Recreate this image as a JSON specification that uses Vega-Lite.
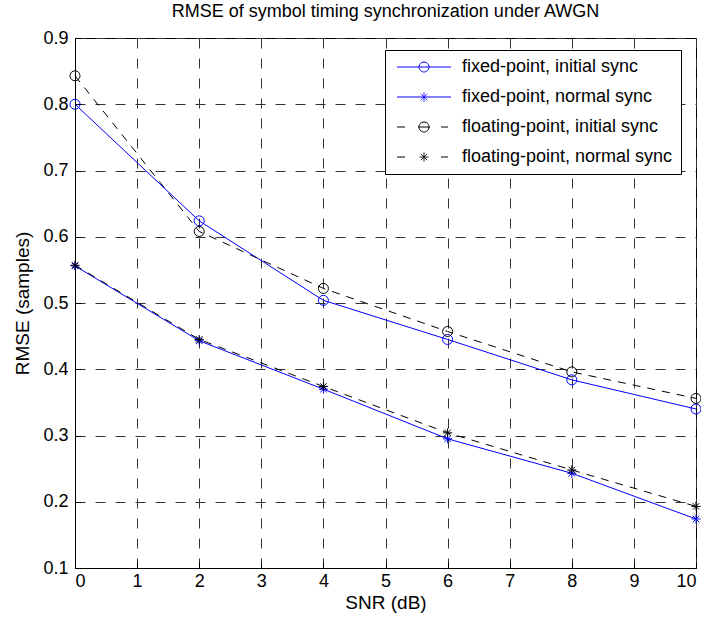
{
  "$schema": "https://vega.github.io/schema/vega-lite/v6.json",
  "width": 621,
  "height": 530,
  "autosize": {"type": "none"},
  "padding": {"left": 75, "top": 38, "right": 5, "bottom": 58},
  "background": "white",
  "config": {
    "font": "Liberation Sans",
    "view": {"stroke": "black", "strokeWidth": 1},
    "axis": {
      "labelFont": "Liberation Sans",
      "labelFontSize": 18,
      "labelColor": "black",
      "titleFont": "Liberation Sans",
      "titleFontSize": 19,
      "titleFontWeight": "normal",
      "titleColor": "black",
      "domainColor": "black",
      "tickColor": "black",
      "tickSize": -6,
      "labelPadding": 13,
      "grid": true,
      "gridColor": "#333333",
      "gridDash": [10, 10],
      "gridWidth": 1,
      "gridOpacity": 1
    }
  },
  "title": {
    "text": "RMSE of symbol timing synchronization under AWGN",
    "font": "Liberation Sans",
    "fontSize": 18,
    "fontWeight": "normal",
    "color": "black",
    "offset": 8
  },
  "data": {
    "values": [
      {"snr": 0, "rmse": 0.800, "series": "fixed-point, initial sync"},
      {"snr": 2, "rmse": 0.624, "series": "fixed-point, initial sync"},
      {"snr": 4, "rmse": 0.504, "series": "fixed-point, initial sync"},
      {"snr": 6, "rmse": 0.445, "series": "fixed-point, initial sync"},
      {"snr": 8, "rmse": 0.384, "series": "fixed-point, initial sync"},
      {"snr": 10, "rmse": 0.340, "series": "fixed-point, initial sync"},
      {"snr": 0, "rmse": 0.556, "series": "fixed-point, normal sync"},
      {"snr": 2, "rmse": 0.443, "series": "fixed-point, normal sync"},
      {"snr": 4, "rmse": 0.370, "series": "fixed-point, normal sync"},
      {"snr": 6, "rmse": 0.295, "series": "fixed-point, normal sync"},
      {"snr": 8, "rmse": 0.243, "series": "fixed-point, normal sync"},
      {"snr": 10, "rmse": 0.174, "series": "fixed-point, normal sync"},
      {"snr": 0, "rmse": 0.843, "series": "floating-point, initial sync"},
      {"snr": 2, "rmse": 0.608, "series": "floating-point, initial sync"},
      {"snr": 4, "rmse": 0.522, "series": "floating-point, initial sync"},
      {"snr": 6, "rmse": 0.457, "series": "floating-point, initial sync"},
      {"snr": 8, "rmse": 0.396, "series": "floating-point, initial sync"},
      {"snr": 10, "rmse": 0.356, "series": "floating-point, initial sync"},
      {"snr": 0, "rmse": 0.557, "series": "floating-point, normal sync"},
      {"snr": 2, "rmse": 0.445, "series": "floating-point, normal sync"},
      {"snr": 4, "rmse": 0.374, "series": "floating-point, normal sync"},
      {"snr": 6, "rmse": 0.304, "series": "floating-point, normal sync"},
      {"snr": 8, "rmse": 0.248, "series": "floating-point, normal sync"},
      {"snr": 10, "rmse": 0.193, "series": "floating-point, normal sync"}
    ]
  },
  "encoding": {
    "x": {
      "field": "snr",
      "type": "quantitative",
      "scale": {"domain": [0, 10], "nice": false},
      "axis": {"title": "SNR (dB)", "values": [0,1,2,3,4,5,6,7,8,9,10], "format": "d", "labelPadding": 10, "titlePadding": 3}
    },
    "y": {
      "field": "rmse",
      "type": "quantitative",
      "scale": {"domain": [0.1, 0.9], "nice": false, "zero": false},
      "axis": {"title": "RMSE (samples)", "values": [0.1,0.2,0.3,0.4,0.5,0.6,0.7,0.8,0.9], "format": ".1f", "titlePadding": 10}
    },
    "color": {
      "field": "series",
      "type": "nominal",
      "scale": {
        "domain": ["fixed-point, initial sync", "fixed-point, normal sync", "floating-point, initial sync", "floating-point, normal sync"],
        "range": ["#0000ff", "#0000ff", "#000000", "#000000"]
      },
      "legend": {
        "orient": "none",
        "legendX": 310,
        "legendY": 12,
        "title": null,
        "symbolSize": 256,
        "symbolOffset": 22,
        "labelOffset": 29,
        "padding": 8,
        "rowPadding": 12,
        "labelLimit": 400,
        "strokeColor": "black",
        "fillColor": "white",
        "labelFont": "Liberation Sans",
        "labelFontSize": 18,
        "labelColor": "black",
        "encode": {
          "symbols": {
            "update": {
              "shape": {"signal": "datum.value === 'fixed-point, initial sync' ? 'M-3.375,0L3.375,0M0.625,0A0.625,0.625 0 1,1 -0.625,0A0.625,0.625 0 1,1 0.625,0Z' : datum.value === 'fixed-point, normal sync' ? 'M-3.375,0L3.375,0M0,-0.56L0,0.56M-0.4,-0.4L0.4,0.4M-0.4,0.4L0.4,-0.4' : datum.value === 'floating-point, initial sync' ? 'M-3.375,0L-2.375,0M-0.75,0L0.75,0M2.125,0L3,0M0.625,0A0.625,0.625 0 1,1 -0.625,0A0.625,0.625 0 1,1 0.625,0Z' : 'M-3.375,0L-2.375,0M-0.56,0L0.56,0M2.125,0L3,0M0,-0.56L0,0.56M-0.4,-0.4L0.4,0.4M-0.4,0.4L0.4,-0.4'"},
              "stroke": {"scale": "color", "field": "value"},
              "fill": {"value": "transparent"},
              "strokeWidth": {"value": 1},
              "strokeDash": {"value": [1, 0]},
              "opacity": {"value": 1}
            }
          }
        }
      }
    }
  },
  "layer": [
    {
      "transform": [{"filter": "indexof(datum.series, 'fixed') === 0"}],
      "mark": {"type": "line", "strokeWidth": 1}
    },
    {
      "transform": [{"filter": "indexof(datum.series, 'floating') === 0"}],
      "mark": {"type": "line", "strokeWidth": 1, "strokeDash": [8, 7]}
    },
    {
      "transform": [{"filter": "indexof(datum.series, 'initial') >= 0"}],
      "mark": {"type": "point", "filled": false, "strokeWidth": 1, "size": 100, "opacity": 1, "shape": "circle"}
    },
    {
      "transform": [{"filter": "indexof(datum.series, 'normal') >= 0"}],
      "mark": {"type": "point", "filled": false, "strokeWidth": 1, "size": 100, "opacity": 1, "shape": "M-0.9,0L0.9,0M0,-0.9L0,0.9M-0.64,-0.64L0.64,0.64M-0.64,0.64L0.64,-0.64"}
    }
  ]
}
